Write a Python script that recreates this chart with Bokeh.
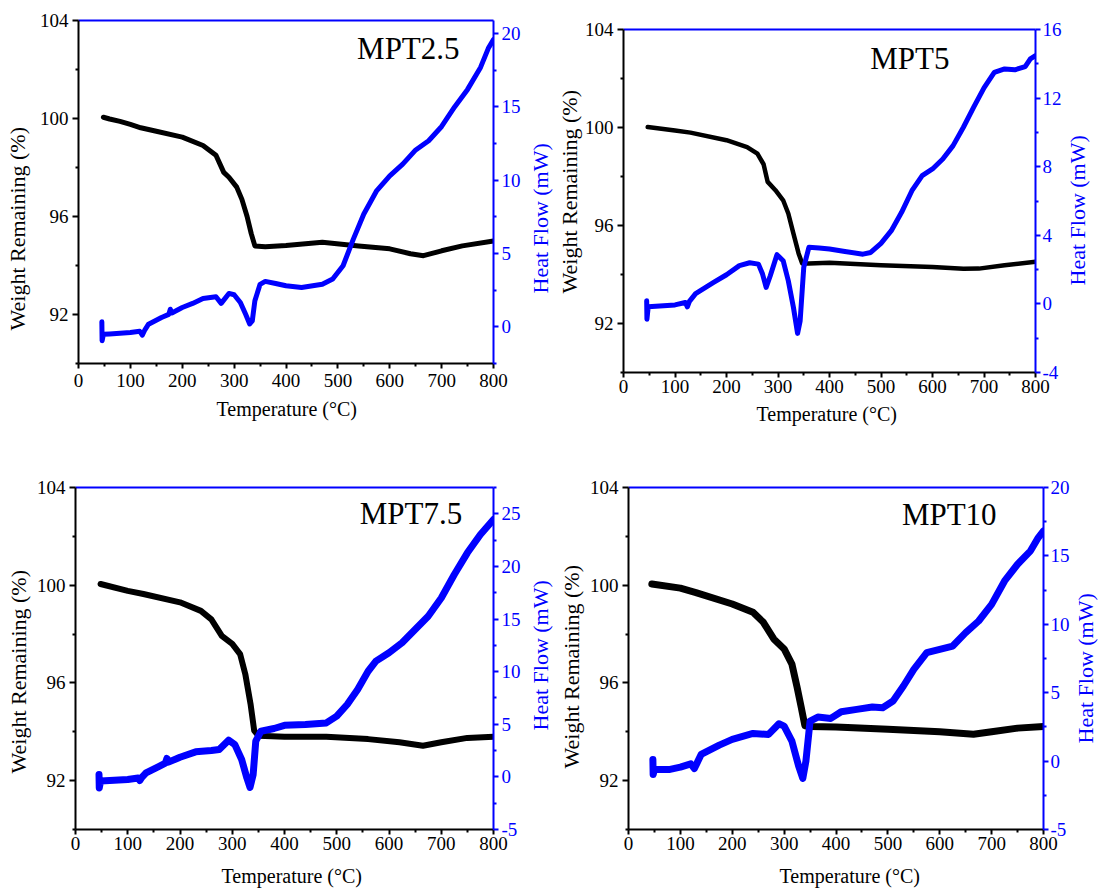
from bokeh.embed import file_html
from bokeh.layouts import column, row
from bokeh.models import FixedTicker, Label, LinearAxis, Range1d, Spacer, Title
from bokeh.plotting import figure
from bokeh.resources import INLINE

# ---------------- data (TGA weight and DSC heat flow vs temperature) ----------------
names = ["MPT2.5", "MPT5", "MPT7.5", "MPT10"]

wt_temp_25 = [48, 60, 80, 100, 120, 150, 200, 240, 265, 280, 290, 305, 315, 325, 333,
              340, 360, 400, 470, 540, 600, 640, 665, 700, 740, 800]
wt_25 = [100.05, 99.98, 99.88, 99.76, 99.62, 99.48, 99.24, 98.9, 98.5, 97.8, 97.6, 97.2,
         96.7, 96.0, 95.3, 94.8, 94.77, 94.82, 94.95, 94.8, 94.68, 94.48, 94.4, 94.6,
         94.8, 95.0]
hf_temp_25 = [45, 45.5, 48, 60, 100, 118, 123, 128, 135, 160, 174, 177, 180, 200, 220,
              240, 265, 275, 290, 300, 312, 322, 330, 335, 340, 350, 360, 380, 400, 430,
              470, 490, 510, 530, 550, 575, 600, 625, 650, 675, 700, 725, 750, 775, 790,
              800]
hf_25 = [0.35, -0.95, -0.5, -0.48, -0.39, -0.3, -0.57, -0.2, 0.18, 0.64, 0.85, 1.2, 0.95,
         1.32, 1.6, 1.94, 2.05, 1.6, 2.28, 2.19, 1.66, 0.87, 0.2, 0.41, 1.78, 2.9, 3.1,
         2.96, 2.8, 2.69, 2.9, 3.26, 4.17, 6.0, 7.7, 9.3, 10.3, 11.1, 12.07, 12.7, 13.67,
         15.0, 16.2, 17.7, 19.0, 19.6]

wt_temp_5 = [47, 100, 130, 200, 240, 260, 272, 280, 295, 310, 320, 330, 340, 347, 360,
             400, 500, 600, 660, 690, 740, 800]
wt_5 = [100.02, 99.88, 99.79, 99.48, 99.2, 98.93, 98.5, 97.78, 97.44, 97.03, 96.49,
        95.67, 94.86, 94.45, 94.45, 94.48, 94.38, 94.31, 94.23, 94.24, 94.38, 94.52]
hf_temp_5 = [45, 45.5, 48, 100, 120, 124, 128, 140, 175, 200, 225, 245, 262, 270, 277,
             285, 298, 310, 320, 330, 338, 343, 350, 360, 380, 400, 430, 465, 480, 500,
             520, 540, 560, 580, 600, 620, 640, 660, 680, 700, 720, 740, 760, 780, 790, 800]
hf_5 = [0.18, -0.89, -0.17, -0.06, 0.08, -0.17, 0.15, 0.6, 1.25, 1.7, 2.23, 2.4, 2.32,
        1.74, 0.96, 1.64, 2.87, 2.52, 1.35, -0.21, -1.72, -0.99, 2.13, 3.3, 3.26, 3.2,
        3.06, 2.9, 3.0, 3.53, 4.27, 5.34, 6.6, 7.48, 7.87, 8.45, 9.23, 10.3, 11.47, 12.6,
        13.5, 13.7, 13.65, 13.84, 14.29, 14.48]

wt_temp_75 = [48, 100, 130, 200, 240, 260, 280, 300, 315, 325, 335, 342, 350, 400, 480,
              560, 620, 665, 700, 750, 800]
wt_75 = [100.05, 99.77, 99.64, 99.3, 98.95, 98.6, 97.93, 97.6, 97.18, 96.36, 95.14, 94.05,
         93.84, 93.8, 93.8, 93.7, 93.57, 93.43, 93.57, 93.75, 93.8]
hf_temp_75 = [45, 45.5, 48, 100, 120, 123, 127, 135, 160, 172, 175, 178, 200, 230, 260,
              275, 293, 305, 318, 328, 334, 340, 345, 355, 380, 400, 440, 480, 500, 520,
              540, 560, 575, 600, 625, 650, 675, 700, 725, 750, 775, 800]
hf_75 = [0.22, -1.05, -0.4, -0.25, -0.1, -0.35, -0.05, 0.38, 1.0, 1.3, 1.75, 1.4, 1.87,
         2.38, 2.5, 2.6, 3.49, 3.07, 1.65, -0.1, -1.0, 0.22, 3.39, 4.34, 4.6, 4.9, 4.97,
         5.13, 5.77, 6.88, 8.3, 10.04, 11.0, 11.8, 12.74, 14.0, 15.27, 17.0, 19.23, 21.29,
         23.04, 24.46]

wt_temp_10 = [45, 100, 130, 200, 240, 260, 280, 300, 315, 325, 333, 340, 350, 400, 500,
              600, 665, 700, 750, 800]
wt_10 = [100.05, 99.88, 99.7, 99.23, 98.89, 98.48, 97.8, 97.39, 96.77, 95.82, 95.0, 94.25,
         94.22, 94.2, 94.1, 94.0, 93.9, 94.0, 94.15, 94.22]
hf_temp_10 = [47, 47.5, 50, 80, 100, 120, 127, 132, 140, 175, 200, 240, 270, 290, 300,
              315, 328, 336, 342, 350, 365, 390, 410, 440, 470, 490, 510, 530, 550, 575,
              600, 625, 650, 675, 700, 725, 750, 775, 790, 800]
hf_10 = [0.12, -0.98, -0.61, -0.61, -0.44, -0.2, -0.54, -0.15, 0.49, 1.17, 1.59, 2.02,
         1.95, 2.73, 2.56, 1.46, -0.37, -1.27, 0.0, 2.93, 3.22, 3.12, 3.61, 3.78, 3.95,
         3.9, 4.39, 5.49, 6.7, 7.93, 8.17, 8.41, 9.39, 10.24, 11.46, 13.17, 14.39, 15.37,
         16.34, 16.83]

temp_ticks = [0, 100, 200, 300, 400, 500, 600, 700, 800]
temp_minor = [50, 150, 250, 350, 450, 550, 650, 750]
wt_ticks = [92, 96, 100, 104]
wt_minor = [90, 94, 98, 102]
hf_ticks_25 = [0, 5, 10, 15, 20]
hf_ticks_5 = [-4, 0, 4, 8, 12, 16]
hf_ticks_75 = [-5, 0, 5, 10, 15, 20, 25]
hf_ticks_10 = [-5, 0, 5, 10, 15, 20]

x_title = "Temperature (°C)"
wt_title = "Weight Remaining (%)"
hf_title = "Heat Flow (mW)"

# ---------------- styling ----------------
SERIF = "Liberation Serif"
BLUE = "#0000ff"
BLACK = "#000000"


def style_axis(ax, color, tick_out, minor_out, lbl_standoff):
    ax.axis_line_color = color
    ax.axis_line_width = 2
    ax.major_tick_line_color = color
    ax.minor_tick_line_color = color
    ax.major_tick_line_width = 2
    ax.minor_tick_line_width = 2
    ax.major_tick_out = tick_out
    ax.major_tick_in = 0
    ax.minor_tick_out = minor_out
    ax.minor_tick_in = 0
    ax.major_label_text_font = SERIF
    ax.major_label_text_font_size = "19px"
    ax.major_label_text_color = color
    ax.major_label_standoff = lbl_standoff


def side_title(text, color, size, standoff, offset):
    # side-panel title; "left" alignment plus offset sets where the text starts
    # (up from the frame's bottom on the left side, right of its left edge below)
    return Title(text=text, align="left", vertical_align="top",
                 standoff=standoff, offset=offset, text_font=SERIF,
                 text_font_size=size, text_font_style="normal", text_color=color)


def gap_axis(gap):
    # a bare axis that draws nothing: one hidden tick whose length leaves a gap
    ax = LinearAxis(ticker=FixedTicker(ticks=[400], minor_ticks=[]))
    ax.axis_line_color = None
    ax.major_tick_line_color = None
    ax.major_tick_out = gap
    ax.major_tick_in = 0
    ax.minor_tick_out = 0
    ax.minor_tick_in = 0
    ax.major_label_overrides = {400: ""}
    ax.major_label_text_font_size = "1px"
    ax.major_label_standoff = 0
    return ax


def make_panel(name, wt_t, wt, hf_t, hf, hf_range, hf_ticks, size, borders,
               standoffs, widths, name_pos, left_titles, bottom_title):
    w, h = size
    left, right, top, bottom = borders
    p = figure(width=w, height=h, x_range=Range1d(0, 800), y_range=Range1d(90, 104),
               output_backend="svg", toolbar_location=None,
               min_border_left=left, min_border_right=right,
               min_border_top=top, min_border_bottom=bottom)
    p.outline_line_color = None
    p.xgrid.visible = False
    p.ygrid.visible = False
    p.background_fill_color = "white"
    p.border_fill_color = "white"

    step = hf_ticks[1] - hf_ticks[0]
    hf_minor = [t + step / 2 for t in hf_ticks[:-1]]
    if hf_ticks[0] - step / 2 >= hf_range[0]:
        hf_minor = [hf_ticks[0] - step / 2] + hf_minor
    if hf_ticks[-1] + step / 2 <= hf_range[1]:
        hf_minor = hf_minor + [hf_ticks[-1] + step / 2]
    p.extra_y_ranges = {"hf": Range1d(*hf_range)}

    sl, sb, sr = standoffs

    xa = p.xaxis[0]
    xa.ticker = FixedTicker(ticks=temp_ticks, minor_ticks=temp_minor)
    style_axis(xa, BLACK, 5, 3, sb)

    ya = p.yaxis[0]
    ya.ticker = FixedTicker(ticks=wt_ticks, minor_ticks=wt_minor)
    style_axis(ya, BLACK, 6, 3, sl)

    ra = LinearAxis(y_range_name="hf",
                    ticker=FixedTicker(ticks=hf_ticks, minor_ticks=hf_minor))
    style_axis(ra, BLUE, 5, 3, sr)
    ra.major_label_overrides = {t: str(t) for t in hf_ticks if t < 0}
    p.add_layout(ra, "right")

    ta = LinearAxis(ticker=FixedTicker(ticks=[], minor_ticks=[]))
    ta.axis_line_color = BLUE
    ta.axis_line_width = 2
    ta.major_tick_out = 0
    ta.minor_tick_out = 0
    ta.major_label_text_font_size = "1px"
    p.add_layout(ta, "above")

    # temperature title below the tick labels
    gap, start = bottom_title
    p.add_layout(gap_axis(gap), "below")
    p.add_layout(side_title(x_title, BLACK, "20px", 0, start), "below")

    wt_w, hf_w = widths
    p.line(wt_t, wt, line_color=BLACK, line_width=wt_w,
           line_join="round", line_cap="round")
    p.line(hf_t, hf, y_range_name="hf", line_color=BLUE, line_width=hf_w,
           line_join="round", line_cap="round")

    p.add_layout(Label(x=name_pos[0], y=name_pos[1], text=name, text_font=SERIF,
                       text_font_size="31px", text_color=BLACK, text_align="left",
                       text_baseline="alphabetic"))

    # left side: the weight title, then (outermost) the heat-flow title of the
    # panel to the left, which sits in this plot's margin
    for text, color, standoff, offset in left_titles:
        p.add_layout(side_title(text, color, "22px", standoff, offset), "left")
    return p


def margin_title(width, height, top, bottom, standoff, offset):
    # narrow strip at the right edge carrying the last heat-flow title
    s = figure(width=width, height=height, x_range=Range1d(0, 1), y_range=Range1d(0, 1),
               x_axis_location=None, y_axis_location=None,
               output_backend="svg", toolbar_location=None,
               min_border_left=0, min_border_right=0,
               min_border_top=top, min_border_bottom=bottom)
    s.outline_line_color = None
    s.grid.visible = False
    s.add_layout(side_title(hf_title, BLUE, "22px", standoff, offset), "left")
    return s


p1 = make_panel(names[0], wt_temp_25, wt_25, hf_temp_25, hf_25, (-2.5, 20.9), hf_ticks_25,
                (523, 440), (77, 27, 20, 77), (4, 5, 3), (5, 5), (537, 102.86),
                [(wt_title, BLACK, 8.5, 33)], (8, 138))
p2 = make_panel(names[1], wt_temp_5, wt_5, hf_temp_5, hf_5, (-4, 16), hf_ticks_5,
                (541, 440), (99, 26, 20, 77), (4, 2, 2), (4.5, 5), (479, 102.83),
                [(wt_title, BLACK, -5.5, 79), (hf_title, BLUE, 9, 79)], (7, 133))
s1 = margin_title(38, 440, 20, 77, 0, 87)

p3 = make_panel(names[2], wt_temp_75, wt_75, hf_temp_75, hf_75, (-5, 27.5), hf_ticks_75,
                (523, 442), (75, 28, 38, 62), (4, 2, 3), (6, 7), (544, 102.94),
                [(wt_title, BLACK, 1, 56)], (12, 146))
p4 = make_panel(names[3], wt_temp_10, wt_10, hf_temp_10, hf_10, (-5, 20), hf_ticks_10,
                (549, 442), (104, 26, 38, 62), (4, 2, 2), (7, 7), (527, 102.9),
                [(wt_title, BLACK, 1, 61), (hf_title, BLUE, 8, 99)], (12, 151))
s2 = margin_title(30, 442, 38, 62, 0, 86)

# the right-hand plot of the first row sits a little lower than its neighbour
top_row = row(p1, column(Spacer(width=579, height=9), row(p2, s1)))
bottom_row = row(p3, p4, s2)
layout = column(top_row, bottom_row)

with open("out.html", "w") as f:
    f.write(file_html(layout, INLINE))
